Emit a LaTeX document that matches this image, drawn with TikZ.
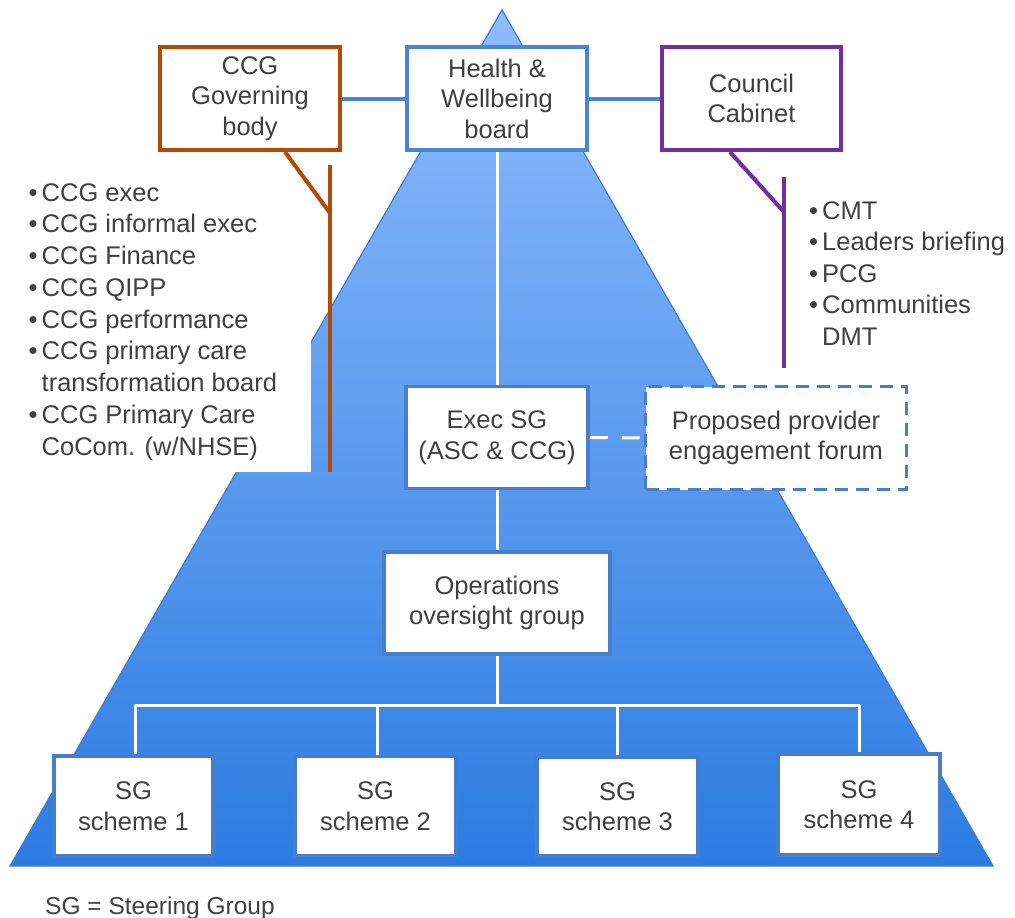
\documentclass[tikz,border=0pt]{standalone}
\usepackage{fontspec}
\setmainfont{Liberation Sans}
\definecolor{txt}{RGB}{64,64,64}
\definecolor{ccgorange}{RGB}{178,74,8}
\definecolor{ccpurple}{RGB}{112,48,160}
\definecolor{boxblue}{RGB}{74,134,208}
\definecolor{innerblue}{RGB}{70,126,204}
\definecolor{tritop}{RGB}{142,188,252}
\definecolor{tribot}{RGB}{44,124,226}
\definecolor{triline}{RGB}{60,124,210}
\newcommand\bitem[1]{\makebox[13pt][l]{•}#1}
\newcommand\bcont[1]{\hspace*{13pt}#1}
\begin{document}
\begin{tikzpicture}[x=1pt,y=-1pt,
  boxtext/.style={font=\fontsize{25.5}{30.5}\selectfont, text=txt, align=center, inner sep=0pt},
  topbox/.style={boxtext, draw, line width=4pt, fill=white},
  innerbox/.style={boxtext, draw=innerblue, line width=3.5pt, fill=white},
  dashbox/.style={boxtext, draw=innerblue, line width=3.5pt, fill=white, dash pattern=on 13pt off 8pt},
  wline/.style={draw=white, line width=3pt},
  listtext/.style={font=\fontsize{25.5}{31.75}\selectfont, text=txt, align=left, inner sep=0pt, anchor=north west}
]
\useasboundingbox (0,0) rectangle (1015,918);
% pyramid
\shade[top color=tritop, bottom color=tribot] (10,866) -- (502,10) -- (993,866) -- cycle;
\draw[triline, line width=1.2pt, line join=miter] (10,866) -- (502,10) -- (993,866) -- cycle;
% white panel behind CCG list
\fill[white] (0,170) rectangle (311,472);

% top boxes
\node[topbox, draw=ccgorange, minimum width=180pt, minimum height=103pt] (ccg) at (250,98.5) {CCG\\Governing\\body};
\node[topbox, draw=boxblue, minimum width=180pt, minimum height=103pt] (hw) at (497,98.5) {Health \&\\Wellbeing\\board};
\node[topbox, draw=ccpurple, minimum width=179pt, minimum height=103pt] (cc) at (751.5,98.5) {Council\\Cabinet};

\draw[boxblue, line width=4pt] (ccg.east) -- (hw.west);
\draw[boxblue, line width=4pt] (hw.east) -- (cc.west);

% middle boxes
\node[innerbox, minimum width=182pt, minimum height=102pt] (exec) at (497,437.5) {Exec SG\\(ASC \& CCG)};
\node[dashbox, minimum width=261pt, minimum height=103pt] (prov) at (776,438) {Proposed provider\\engagement forum};
\node[innerbox, minimum width=226pt, minimum height=102pt] (ops) at (497,603) {Operations\\oversight group};

% scheme boxes
\node[innerbox, minimum width=159pt, minimum height=100pt] (s1) at (133.5,806) {SG\\scheme 1};
\node[innerbox, minimum width=161pt, minimum height=99pt] (s2) at (375.5,806) {SG\\scheme 2};
\node[innerbox, minimum width=161pt, minimum height=99pt] (s3) at (617.5,806.5) {SG\\scheme 3};
\node[innerbox, minimum width=162pt, minimum height=101pt] (s4) at (859,804.5) {SG\\scheme 4};

% white connectors
\coordinate (bus) at (0,705);
\draw[wline] (hw.south) -- (exec.north);
\draw[wline] (exec.south) -- (ops.north);
\draw[wline] (ops.south) -- (ops.south |- bus);
\draw[wline, line join=round] (s1.north -| 135,0) -- (135,705) -- (859,705) -- (s4.north -| 859,0);
\draw[wline] (s2.north -| 377,0) -- (377,705);
\draw[wline] (s3.north -| 617,0) -- (617,705);
\draw[white, line width=3pt, dash pattern=on 18pt off 14pt] (exec.east) -- (prov.west);

% CCG list connector
\coordinate (ccgT) at (330,165);
\coordinate (ccgJ) at (330,213);
\coordinate (ccgB) at (330,472);
\draw[ccgorange, line width=4pt] ([xshift=35pt]ccg.south) -- (ccgJ);
\draw[ccgorange, line width=4pt] (ccgT) -- (ccgB);

% Council list connector
\coordinate (ccT) at (784,177);
\coordinate (ccJ) at (784,212);
\coordinate (ccB) at (784,368);
\draw[ccpurple, line width=4pt] ([xshift=-21.5pt]cc.south) -- (ccJ);
\draw[ccpurple, line width=4pt] (ccT) -- (ccB);

% lists
\node[listtext] (ccglist) at (28.5,183) {\bitem{CCG exec}\\
\bitem{CCG informal exec}\\
\bitem{CCG Finance}\\
\bitem{CCG QIPP}\\
\bitem{CCG performance}\\
\bitem{CCG primary care}\\
\bcont{transformation board}\\
\bitem{CCG Primary Care}\\
\bcont{CoCom. (w/NHSE)}};

\node[listtext, font=\fontsize{25.5}{31.5}\selectfont] (cclist) at (809,201) {\bitem{CMT}\\
\bitem{Leaders briefing}\\
\bitem{PCG}\\
\bitem{Communities}\\
\bcont{DMT}};

% footer
\node[font=\fontsize{24.5}{29}\selectfont, text=txt, anchor=base west, inner sep=0pt] (legend) at (45,914) {SG = Steering Group};
\end{tikzpicture}
\end{document}
